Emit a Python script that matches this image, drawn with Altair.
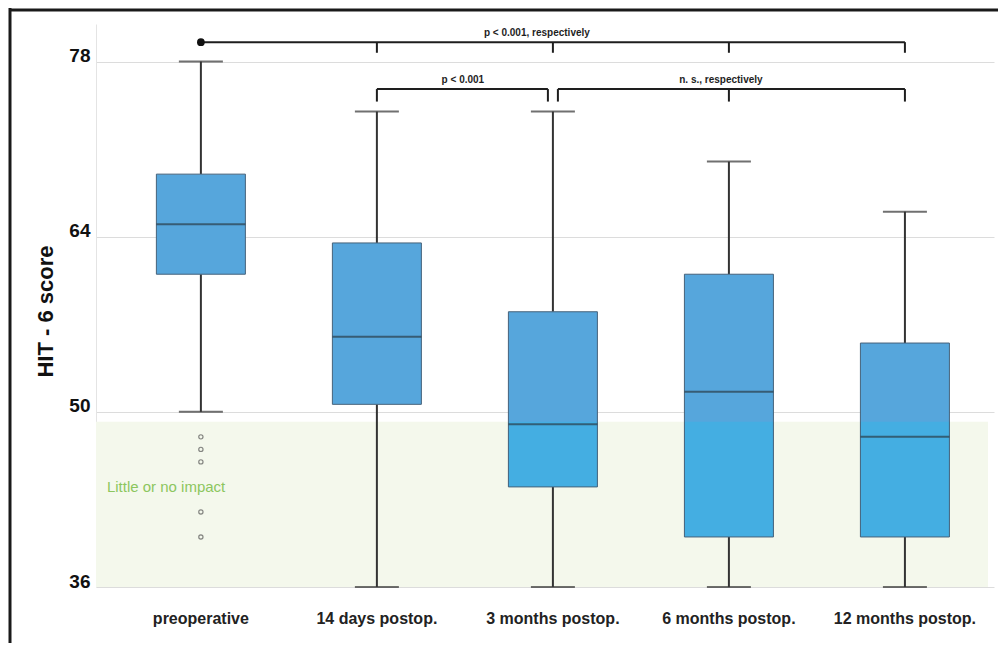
import altair as alt
import pandas as pd

# ---------------- data ----------------
groups = ["preoperative", "14 days postop.", "3 months postop.",
          "6 months postop.", "12 months postop."]
whisker_low = [50, 36, 36, 36, 36]
q1 = [61, 50.6, 44, 40, 40]
median = [65, 56, 49, 51.6, 48]
q3 = [69, 63.5, 58, 61, 55.5]
whisker_high = [78, 74, 74, 70, 66]

outlier_group = ["preoperative"] * 5
outlier_values = [48, 47, 46, 42, 40]

impact_threshold = 49.2
impact_label = "Little or no impact"
y_ticks = [36, 50, 64, 78]
y_title = "HIT - 6 score"

# significance brackets
top_level = 79.55
top_tick_end = 78.7
low_level = 75.8
low_tick_end = 74.8

hz_from = ["preoperative", "14 days postop.", "3 months postop."]
hz_to = ["12 months postop.", "3 months postop.", "12 months postop."]
hz_y = [top_level, low_level, low_level]
hz_shift_from = [0, 0, 5]
hz_shift_to = [0, -5, 0]

tk_group = ["14 days postop.", "3 months postop.", "6 months postop.", "12 months postop.",
            "14 days postop.", "3 months postop.",
            "3 months postop.", "6 months postop.", "12 months postop."]
tk_top = [top_level] * 4 + [low_level] * 5
tk_bottom = [top_tick_end] * 4 + [low_tick_end] * 5
tk_shift = [0, 0, 0, 0, 0, -5, 5, 0, 0]

ann_text = ["p < 0.001, respectively", "p < 0.001", "n. s., respectively"]
ann_group = ["3 months postop.", "14 days postop.", "6 months postop."]
ann_y = [80.3, 76.5, 76.5]
ann_dx = [-16, 86, -8]

FONT = "Liberation Sans"
BOX_UPPER = "#56a6dc"
BOX_LOWER = "#44aee2"

boxes = pd.DataFrame({"group": groups, "low": whisker_low, "q1": q1,
                      "median": median, "q3": q3, "high": whisker_high})
outliers = pd.DataFrame({"group": outlier_group, "value": outlier_values})
green = pd.DataFrame({"lo": [36], "hi": [impact_threshold]})
hz = pd.DataFrame({"from": hz_from, "to": hz_to, "y": hz_y,
                   "sf": hz_shift_from, "st": hz_shift_to})
tk = pd.DataFrame({"group": tk_group, "top": tk_top, "bottom": tk_bottom, "shift": tk_shift})
ann = pd.DataFrame({"text": ann_text, "group": ann_group, "y": ann_y, "dx": ann_dx})
dot = pd.DataFrame({"group": [groups[0]], "y": [top_level]})
label_df = pd.DataFrame({"group": [groups[0]], "y": [44.0], "text": [impact_label]})
frame = pd.DataFrame({"k": [0]})

xscale = alt.Scale(domain=groups, paddingInner=0, paddingOuter=0.051, align=0.94)
yscale = alt.Scale(domain=[36, 81], nice=False, zero=False)
xaxis = alt.Axis(title=None, labelFont=FONT, labelFontSize=16, labelFontWeight="bold",
                 labelColor="#222222", labelPadding=23, ticks=False, domain=False,
                 grid=False, labelAngle=0)
yaxis = alt.Axis(title=y_title, values=y_ticks, labelFont=FONT, labelFontSize=19,
                 labelFontWeight="bold", labelColor="#111111", labelPadding=6,
                 labelBaseline="alphabetic", ticks=False, grid=True,
                 gridColor="#dcdcdc", gridWidth=1, domainColor="#e4e4e4",
                 titleFont=FONT, titleFontSize=22, titleFontWeight="bold",
                 titleColor="#111111", titleX=-51, titleY=287, titleAngle=270,
                 titleAlign="center", titleBaseline="middle")


def X(field, **kw):
    return alt.X(f"{field}:N", scale=xscale, axis=xaxis, title=None, **kw)


def Y(field):
    return alt.Y(f"{field}:Q", scale=yscale, axis=yaxis)


layers = []

# light green "little or no impact" zone
layers.append(alt.Chart(green).mark_rect(color="#f4f8ec").encode(
    x=alt.value(0), x2=alt.value(892), y=Y("lo"), y2="hi"))

# whisker stems
layers.append(alt.Chart(boxes).mark_rule(color="#333333", strokeWidth=2).encode(
    x=X("group"), y=Y("low"), y2="q1"))
layers.append(alt.Chart(boxes).mark_rule(color="#333333", strokeWidth=2).encode(
    x=X("group"), y=Y("q3"), y2="high"))

# caps
layers.append(alt.Chart(boxes).mark_tick(size=44, thickness=2, color="#333333").encode(
    x=X("group"), y=Y("low")))
layers.append(alt.Chart(boxes).mark_tick(size=44, thickness=2, color="#333333").encode(
    x=X("group"), y=Y("high")))

# boxes
layers.append(alt.Chart(boxes).mark_bar(size=89, color=BOX_UPPER).encode(
    x=X("group"), y=Y("q1"), y2="q3"))
layers.append(alt.Chart(boxes).transform_filter(
    f"datum.q1 < {impact_threshold}").transform_calculate(
    top=f"min(datum.q3, {impact_threshold})").mark_bar(size=89, color=BOX_LOWER).encode(
    x=X("group"), y=Y("q1"), y2="top:Q"))
layers.append(alt.Chart(boxes).mark_bar(size=89, fillOpacity=0, stroke="#46627a",
                                        strokeWidth=1).encode(
    x=X("group"), y=Y("q1"), y2="q3"))
layers.append(alt.Chart(boxes).mark_tick(size=89, thickness=2, color="#2b3d48").encode(
    x=X("group"), y=Y("median")))

# outliers
layers.append(alt.Chart(outliers).mark_point(shape="circle", size=18, filled=False,
                                             stroke="#555555", strokeWidth=1.2).encode(
    x=X("group"), y=Y("value")))

# impact label
layers.append(alt.Chart(label_df).mark_text(font=FONT, fontSize=15, color="#8cc65e",
                                            align="left", baseline="middle", dx=-94).encode(
    x=X("group"), y=Y("y"), text="text:N"))

# brackets – horizontal parts
for (sf, st), sub in hz.groupby(["sf", "st"]):
    layers.append(alt.Chart(sub).mark_rule(color="#1e1e1e", strokeWidth=2,
                                           xOffset=int(sf), x2Offset=int(st)).encode(
        x=X("from", bandPosition=0.5), x2=alt.X2("to:N", bandPosition=0.5), y=Y("y")))
# brackets – vertical ticks
for s, sub in tk.groupby("shift"):
    layers.append(alt.Chart(sub).mark_rule(color="#1e1e1e", strokeWidth=2,
                                           xOffset=int(s)).encode(
        x=X("group"), y=Y("top"), y2="bottom"))
# start dot
layers.append(alt.Chart(dot).mark_circle(size=60, color="#111111", opacity=1).encode(
    x=X("group"), y=Y("y")))
# p-value texts
for d, sub in ann.groupby("dx"):
    layers.append(alt.Chart(sub).mark_text(font=FONT, fontSize=10, fontWeight="bold",
                                           color="#1e1e1e", baseline="middle",
                                           dx=int(d)).encode(
        x=X("group"), y=Y("y"), text="text:N"))

# picture frame
layers.append(alt.Chart(frame).mark_rule(color="#1a1a1a", strokeWidth=3).encode(
    x=alt.value(-86), y=alt.value(-16), y2=alt.value(660)))
layers.append(alt.Chart(frame).mark_rule(color="#1a1a1a", strokeWidth=3).encode(
    x=alt.value(-87), x2=alt.value(920), y=alt.value(-14)))

chart = alt.layer(*layers).properties(
    width=898, height=563,
    padding={"left": 88, "top": 16, "right": 4, "bottom": 56},
    autosize=alt.AutoSizeParams(type="none"),
    background="white",
).configure_view(strokeWidth=0)

chart.save("out.html", embed_options={"renderer": "svg", "actions": False})
